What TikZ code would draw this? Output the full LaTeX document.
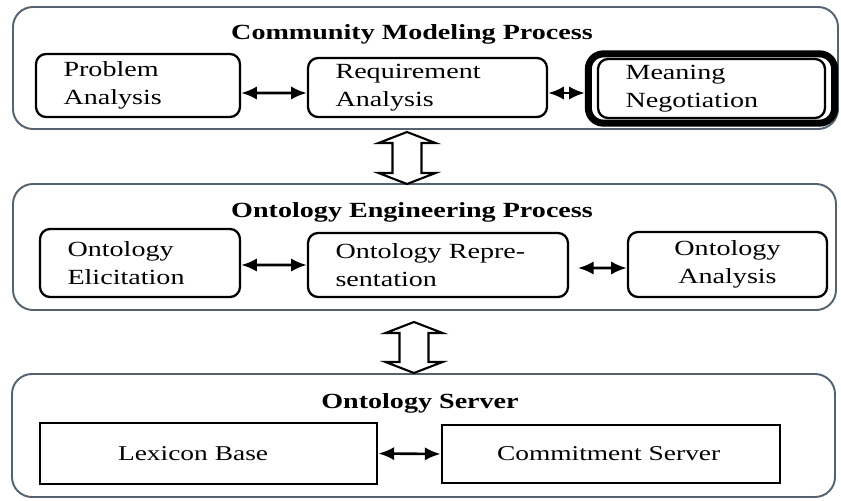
\documentclass[tikz,border=0pt]{standalone}
\usepackage{fontspec}
\setmainfont{Liberation Serif}[FakeStretch=1.3]
\usetikzlibrary{arrows.meta,calc,fit}
\definecolor{panelcolor}{RGB}{85,98,112}

\def\pxu{0.02cm}

\tikzset{
  panel/.style={draw=panelcolor, line width=1.1pt, rounded corners=0.4cm},
  paneltitle/.style={font=\fontsize{12.3}{15}\selectfont\bfseries, inner sep=0pt},
  procbox/.style={draw, line width=1.3pt, rounded corners=0.2cm, align=left,
    inner xsep=0.55cm, inner ysep=0pt, font=\fontsize{12.3}{15.9}\selectfont},
  srvbox/.style={draw, line width=1.6pt, align=left, inner ysep=0pt,
    font=\fontsize{12}{15}\selectfont},
  biarrow/.style={{Latex[length=9pt,width=7.6pt]}-{Latex[length=9pt,width=7.6pt]},
    line width=1.5pt},
  hollow/.style={draw, line width=1.2pt, fill=white, line join=miter}
}

% hollow up/down arrow between two panels: top tip, bottom tip
\newcommand{\hollowarrow}[2]{%
  \draw[hollow] (#1) -- ++(28.5,11) -- ++(-14,0) -- ($(#2)+(14.5,-11)$)
    -- ++(14,0) -- (#2) -- ++(-28.5,-11) -- ++(14,0)
    -- ($(#1)+(-14.5,11)$) -- ++(-14,0) -- cycle;}

\begin{document}
\begin{tikzpicture}[x=0.02cm, y=-0.02cm]

\useasboundingbox (0,0) rectangle (841,500);

% Community modeling
\node[panel, minimum width=825*\pxu, minimum height=122*\pxu] (cmp) at (425.5,68) {};
\node[paneltitle] (cmptitle) at (412,34) {Community Modeling Process};

\node[procbox, text width=2.98cm, minimum height=63*\pxu] (prob) at (138,85.5)
  {Problem\\Analysis};
\node[procbox, text width=3.68cm, minimum height=59*\pxu] (req) at (427.5,87.5)
  {Requirement\\Analysis};
\node[procbox, text width=3.44cm, minimum height=59*\pxu] (mean) at (711.5,88.5)
  {Meaning\\Negotiation};
\node[fit=(mean), draw, line width=4pt, rounded corners=0.3cm,
  inner xsep=8.5*\pxu, inner ysep=4*\pxu] (meanframe) {};

\draw[biarrow] ([yshift=-0.15cm]prob.east) -- ([yshift=-0.11cm]req.west);
\draw[biarrow] ([yshift=-0.11cm]req.east) -- ([yshift=-0.09cm]meanframe.west);

% Ontology engineering
\node[panel, minimum width=823*\pxu, minimum height=126*\pxu] (oep) at (424.5,247) {};
\node[paneltitle] (oeptitle) at (412,212) {Ontology Engineering Process};

\node[procbox, text width=2.9cm, minimum height=68*\pxu] (elic) at (140,263)
  {Ontology\\Elicitation};
\node[procbox, text width=4.1cm, minimum height=64*\pxu] (repr) at (438,265)
  {Ontology Repre-\\sentation};
\node[procbox, align=center, inner xsep=0pt, text width=3.98cm,
  minimum height=65*\pxu] (anal) at (727.5,264.5) {Ontology\\Analysis};

\draw[biarrow] ([yshift=-0.04cm]elic.east) -- (repr.west);
\draw[biarrow, shorten <=5pt] ([yshift=-0.06cm]repr.east) -- ([yshift=-0.07cm]anal.west);

% Ontology server
\node[panel, minimum width=823*\pxu, minimum height=123*\pxu] (srv) at (423.5,435.5) {};
\node[paneltitle] (srvtitle) at (420,403) {Ontology Server};

\node[srvbox, inner xsep=1.56cm, text width=3.62cm, minimum height=61*\pxu] (lex)
  at (208.5,453.5) {Lexicon Base};
\node[srvbox, inner xsep=1.1cm, text width=4.56cm, minimum height=58*\pxu] (com)
  at (611,454) {Commitment Server};

\draw[biarrow] (lex.east) -- (com.west);

% links between the panels
\coordinate (up1) at (407,132);
\coordinate (dn1) at (407,184);
\coordinate (up2) at (414,322);
\coordinate (dn2) at (414,373);
\hollowarrow{up1}{dn1}
\hollowarrow{up2}{dn2}

\end{tikzpicture}
\end{document}
